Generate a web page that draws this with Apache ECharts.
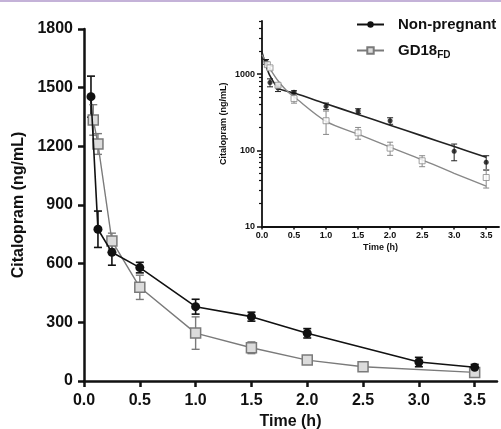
<!DOCTYPE html>
<html>
<head>
<meta charset="utf-8">
<script src="https://cdn.jsdelivr.net/npm/echarts@6/dist/echarts.min.js"></script>
<style>
  html, body { margin: 0; padding: 0; background: #fff; }
  #chart { width: 501px; height: 429px; position: relative; }
  .topline { position: absolute; left: 0; top: 0; width: 501px; height: 2px; background: #c4b2d8; z-index: 5; }
</style>
</head>
<body>
<div class="topline"></div>
<div id="chart"></div>
<script>
// time points (h) and mean +/- error (ng/mL)
var npTime = [0.0625, 0.125, 0.25, 0.5, 1, 1.5, 2, 3, 3.5];
var npMean = [1454, 776, 658, 580, 380, 329, 244, 97, 70];
var npErr = [105, 93, 66, 27, 38, 23, 24, 24, 15];

var gdTime = [0.083, 0.125, 0.25, 0.5, 1, 1.5, 2, 2.5, 3.5];
var gdMean = [1335, 1212, 716, 479, 245, 170, 107, 73, 44];
var gdErr = [78, 53, 40, 62, 83, 30, 21, 12, 12];

// fitted curves in the log inset
var fitTime = [0, 0.0625, 0.125, 0.25, 0.375, 0.5, 1, 1.5, 2, 2.5, 3, 3.5];
var npFit = [1950, 1300, 950, 660, 600, 565, 409, 296, 214, 155, 112, 81];
var gdFit = [1800, 1450, 1180, 820, 620, 505, 240, 163, 110, 75, 50, 34];

// axis ticks
var xTicks = [0, 0.5, 1, 1.5, 2, 2.5, 3, 3.5];
var yTicks = [0, 300, 600, 900, 1200, 1500, 1800];
var logMajor = [10, 100, 1000];
var logMinor = [20, 30, 40, 50, 60, 70, 80, 90, 200, 300, 400, 500, 600, 700, 800, 900, 2000, 3000, 4000, 5000];

var FONT = 'Liberation Sans, Arial, sans-serif';
var BLACK = '#111';
var GRAY = '#7a7a7a';

function pairs(t, v) { return t.map(function (x, i) { return [x, v[i]]; }); }
function errData(t, m, e) { return t.map(function (x, i) { return [x, m[i] - e[i], m[i] + e[i]]; }); }
function plain(v) { return String(Math.round(v)); }
function oneDec(v) { return v.toFixed(1); }

function errBars(capW, lw) {
  return function (params, api) {
    var x = api.value(0);
    var lo = api.coord([x, api.value(1)]);
    var hi = api.coord([x, api.value(2)]);
    var st = { stroke: api.visual('color'), lineWidth: lw };
    return {
      type: 'group',
      children: [
        { type: 'line', shape: { x1: lo[0], y1: lo[1], x2: hi[0], y2: hi[1] }, style: st },
        { type: 'line', shape: { x1: lo[0] - capW, y1: lo[1], x2: lo[0] + capW, y2: lo[1] }, style: st },
        { type: 'line', shape: { x1: hi[0] - capW, y1: hi[1], x2: hi[0] + capW, y2: hi[1] }, style: st }
      ]
    };
  };
}

var chart = echarts.init(document.getElementById('chart'));

var option = {
  animation: false,
  textStyle: { fontFamily: FONT },
  legend: {
    data: ['Non-pregnant', 'GD18FD'],
    orient: 'vertical',
    left: 356,
    top: 17,
    padding: 0,
    itemWidth: 27,
    itemHeight: 8,
    itemGap: 11,
    formatter: function (n) { return n === 'GD18FD' ? 'GD18{s|FD}' : n; },
    textStyle: {
      fontSize: 15, fontWeight: 'bold', color: '#111', fontFamily: FONT,
      padding: [0, 0, 0, 9],
      rich: { s: { fontSize: 10, fontWeight: 'bold', fontFamily: FONT, color: '#111', padding: [9, 0, 0, 0] } }
    }
  },
  grid: [
    { left: 84, top: 29, right: 4, bottom: 48, outerBoundsMode: 'none' },
    { left: 262, top: 21, right: 2, bottom: 202.5, outerBoundsMode: 'none' }
  ],
  xAxis: [
    {
      gridIndex: 0, type: 'value', min: 0, max: 3.7,
      name: 'Time (h)', nameLocation: 'middle', nameGap: 30,
      nameTextStyle: { fontSize: 16, fontWeight: 'bold', color: '#111' },
      axisLine: { lineStyle: { color: '#111', width: 2.5 } },
      axisTick: { length: 6, customValues: xTicks, lineStyle: { width: 2.5, color: '#111' } },
      axisLabel: { customValues: xTicks, margin: 12, fontSize: 16, fontWeight: 'bold', color: '#111', formatter: oneDec },
      splitLine: { show: false }
    },
    {
      gridIndex: 1, type: 'value', min: 0, max: 3.7,
      name: 'Time (h)', nameLocation: 'middle', nameGap: 17,
      nameTextStyle: { fontSize: 9, fontWeight: 'bold', color: '#111' },
      axisLine: { lineStyle: { color: '#111', width: 1.8 } },
      axisTick: { length: 3, customValues: xTicks, lineStyle: { width: 1.5, color: '#111' } },
      axisLabel: { customValues: xTicks, margin: 5, fontSize: 9, fontWeight: 'bold', color: '#111', formatter: oneDec },
      splitLine: { show: false }
    }
  ],
  yAxis: [
    {
      gridIndex: 0, type: 'value', min: 0, max: 1800, interval: 300,
      name: 'Citalopram (ng/mL)', nameLocation: 'middle', nameGap: 52,
      nameTextStyle: { fontSize: 16, fontWeight: 'bold', color: '#111' },
      axisLine: { show: true, lineStyle: { color: '#111', width: 2.5 } },
      axisTick: { show: true, length: 6, customValues: yTicks, lineStyle: { width: 2.5, color: '#111' } },
      axisLabel: { customValues: yTicks, margin: 11, fontSize: 16, fontWeight: 'bold', color: '#111', formatter: plain },
      splitLine: { show: false }
    },
    {
      gridIndex: 1, type: 'log', min: 10, max: 5000, logBase: 10,
      name: 'Citalopram (ng/mL)', nameLocation: 'middle', nameGap: 34,
      nameTextStyle: { fontSize: 9, fontWeight: 'bold', color: '#111' },
      axisLine: { show: true, lineStyle: { color: '#111', width: 1.8 } },
      axisTick: { show: true, length: 5, customValues: logMajor, lineStyle: { width: 1.5, color: '#111' } },
      axisLabel: { customValues: logMajor, margin: 7, fontSize: 9, fontWeight: 'bold', color: '#111', formatter: plain },
      splitLine: { show: false }
    },
    {
      gridIndex: 1, type: 'log', min: 10, max: 5000, logBase: 10, position: 'left', offset: 0,
      axisLine: { show: false },
      axisTick: { show: true, length: 3, customValues: logMinor, lineStyle: { width: 1.2, color: '#111' } },
      axisLabel: { show: false },
      splitLine: { show: false }
    }
  ],
  series: [
    // main panel
    {
      type: 'custom', name: 'npErrMain', xAxisIndex: 0, yAxisIndex: 0, z: 2,
      itemStyle: { color: BLACK }, renderItem: errBars(4, 1.6),
      data: errData(npTime, npMean, npErr)
    },
    {
      type: 'custom', name: 'gdErrMain', xAxisIndex: 0, yAxisIndex: 0, z: 2,
      itemStyle: { color: GRAY }, renderItem: errBars(4, 1.4),
      data: errData(gdTime, gdMean, gdErr)
    },
    {
      type: 'line', name: 'Non-pregnant', xAxisIndex: 0, yAxisIndex: 0, z: 4,
      symbol: 'circle', symbolSize: 9,
      itemStyle: { color: BLACK },
      lineStyle: { color: BLACK, width: 1.6 },
      data: pairs(npTime, npMean)
    },
    {
      type: 'line', name: 'GD18FD', xAxisIndex: 0, yAxisIndex: 0, z: 3,
      symbol: 'rect', symbolSize: 10,
      itemStyle: { color: '#dcdcdc', borderColor: GRAY, borderWidth: 1.5 },
      lineStyle: { color: GRAY, width: 1.4 },
      data: pairs(gdTime, gdMean)
    },
    // inset panel
    {
      type: 'line', name: 'npFit', xAxisIndex: 1, yAxisIndex: 1, z: 2,
      smooth: 0.3, showSymbol: false, symbol: 'none',
      lineStyle: { color: '#222', width: 1.6 },
      data: pairs(fitTime, npFit)
    },
    {
      type: 'line', name: 'gdFit', xAxisIndex: 1, yAxisIndex: 1, z: 2,
      smooth: 0.3, showSymbol: false, symbol: 'none',
      lineStyle: { color: '#888', width: 1.4 },
      data: pairs(fitTime, gdFit)
    },
    {
      type: 'custom', name: 'npErrInset', xAxisIndex: 1, yAxisIndex: 1, z: 3,
      itemStyle: { color: '#222' }, renderItem: errBars(3, 1),
      data: errData(npTime, npMean, npErr)
    },
    {
      type: 'custom', name: 'gdErrInset', xAxisIndex: 1, yAxisIndex: 1, z: 3,
      itemStyle: { color: '#888' }, renderItem: errBars(3, 1),
      data: errData(gdTime, gdMean, gdErr)
    },
    {
      type: 'scatter', name: 'npPtsInset', xAxisIndex: 1, yAxisIndex: 1, z: 4,
      symbol: 'circle', symbolSize: 5,
      itemStyle: { color: '#111' },
      data: pairs(npTime, npMean)
    },
    {
      type: 'scatter', name: 'gdPtsInset', xAxisIndex: 1, yAxisIndex: 1, z: 4,
      symbol: 'rect', symbolSize: 6,
      itemStyle: { color: '#fff', borderColor: '#888', borderWidth: 1 },
      data: pairs(gdTime, gdMean)
    }
  ]
};

chart.setOption(option);
</script>
</body>
</html>
